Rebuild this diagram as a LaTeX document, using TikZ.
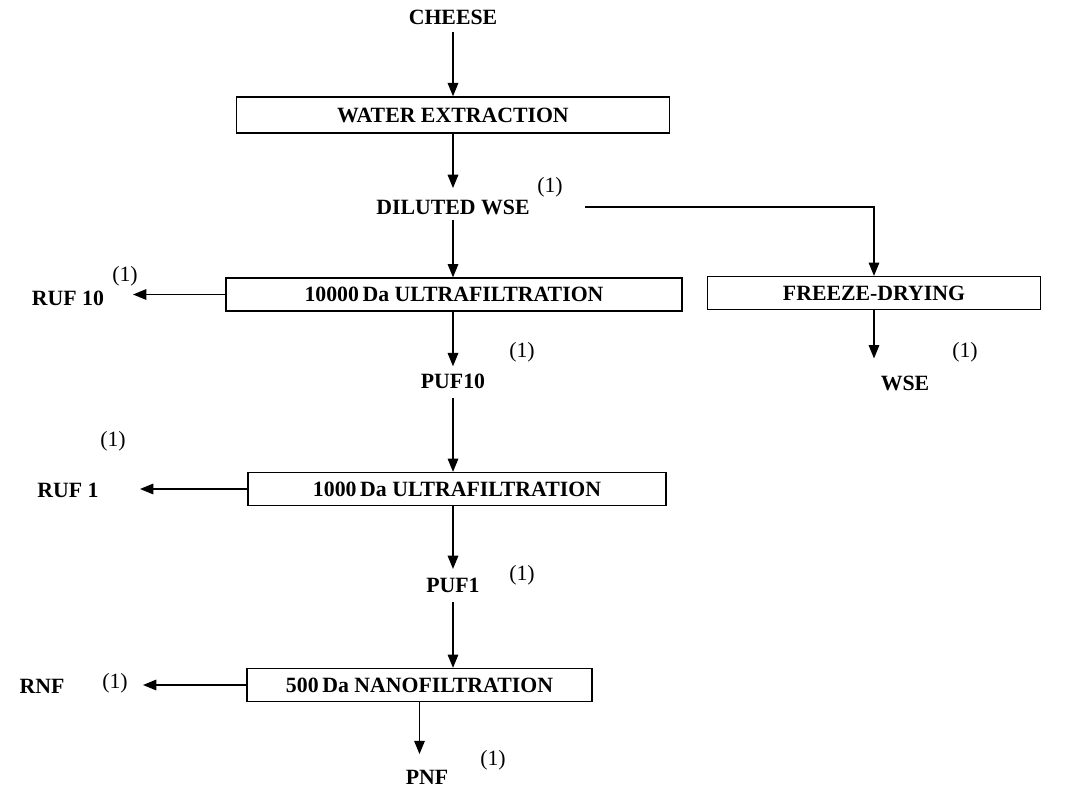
\documentclass[tikz,border=0pt]{standalone}
\usepackage{fontspec}
\setmainfont{Liberation Serif}
\usetikzlibrary{arrows.meta,positioning,calc}

\begin{document}
\begin{tikzpicture}[
            x=0.025cm,
            y=-0.025cm,
            every node/.style={
                    inner sep=2pt,
                    font=\fontsize{15.5}{18}\selectfont
                },
            lbl/.style={
                    font=\fontsize{15.5}{18}\selectfont\bfseries
                },
            note/.style={
                    font=\fontsize{15.5}{18}\selectfont
                },
            box/.style={
                    rectangle,
                    draw=black,
                    line width=1pt,
                    minimum height=0.82cm,
                    font=\fontsize{15.5}{18}\selectfont\bfseries
                },
            arr/.style={
                    draw=black,
                    line width=1.1pt,
                    -{Triangle[width=7.5pt,length=9.5pt]}
                }
        ]
        \useasboundingbox (0,0) rectangle (1068,789);

        % main line
        \node[lbl] (cheese) at (453,17) {CHEESE};
        \node[box, minimum width=10.83cm, minimum height=0.9cm] (water) at (453,115) {WATER EXTRACTION};
        \node[lbl] (dwse) at (453,207) {DILUTED WSE};
        \node[note] (dwsenote) at (550,187) {(1)};
        \node[box, minimum width=11.4cm] (uf10) at (454,294.5) {10000\,Da ULTRAFILTRATION};
        \node[lbl] (puf10) at (453,381) {PUF10};
        \node[note] (puf10note) at (522,352) {(1)};
        \node[box, minimum width=10.45cm] (uf1) at (457,489) {1000\,Da ULTRAFILTRATION};
        \node[lbl] (puf1) at (453,585) {PUF1};
        \node[note] (puf1note) at (522,575) {(1)};
        \node[box, minimum width=8.63cm] (nf) at (419.5,685) {500\,Da NANOFILTRATION};
        \node[lbl] (pnf) at (427,777) {PNF};
        \node[note] (pnfnote) at (493,760) {(1)};

        % freeze-drying branch
        \node[box, minimum width=8.33cm] (freeze) at (874,293) {FREEZE-DRYING};
        \node[lbl] (wse) at (905,383) {WSE};
        \node[note] (wsenote) at (965,352) {(1)};
        \coordinate (dstart) at (585,207);

        % retentates
        \node[lbl] (ruf10) at (68,298) {RUF 10};
        \node[note] (ruf10note) at (125,276) {(1)};
        \coordinate (ruf10tip) at (133,294.5);
        \node[lbl] (ruf1) at (68,490) {RUF 1};
        \node[note] (ruf1note) at (113,441) {(1)};
        \coordinate (ruf1tip) at (140,489);
        \node[lbl] (rnf) at (42,686) {RNF};
        \node[note] (rnfnote) at (115,683) {(1)};
        \coordinate (rnftip) at (143,685);

        \draw[arr, shorten <=3pt] (cheese) -- (water);
        \draw[arr, shorten >=6pt] (water) -- (dwse);
        \draw[arr, shorten <=2pt] (dwse) -- (dwse |- uf10.north);
        \draw[arr, shorten >=3pt] (uf10.south -| puf10) -- (puf10);
        \draw[arr, shorten <=5pt] (puf10) -- (puf10 |- uf1.north);
        \draw[arr, shorten >=4pt] (uf1.south -| puf1) -- (puf1);
        \draw[arr, shorten <=5pt] (puf1) -- (puf1 |- nf.north);
        \draw[arr, shorten >=9pt] (nf.south) -- (nf.south |- pnf.north);
        \draw[arr] (dstart) -| (freeze.north);
        \draw[arr, shorten >=10pt] (freeze.south) -- (freeze.south |- wse.north);
        \draw[arr] (uf10.west) -- (ruf10tip);
        \draw[arr] (uf1.west) -- (ruf1tip);
        \draw[arr] (nf.west) -- (rnftip);

    \end{tikzpicture}
\end{document}
